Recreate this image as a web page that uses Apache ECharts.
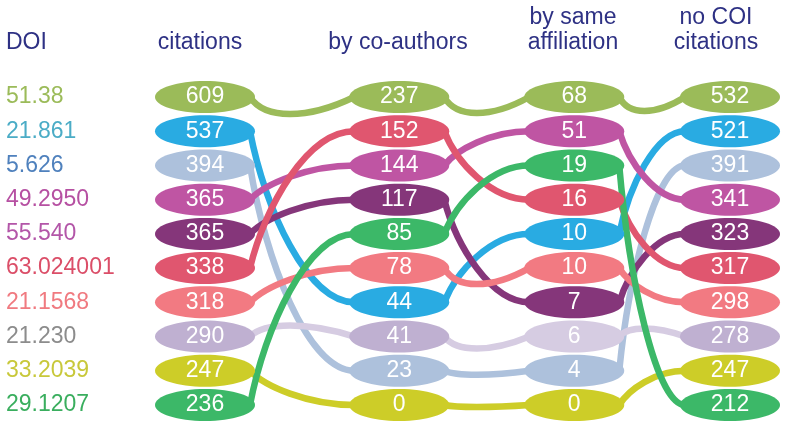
<!DOCTYPE html>
<html><head><meta charset="utf-8">
<script src="https://cdn.jsdelivr.net/npm/echarts@6/dist/echarts.min.js"></script>
<style>html,body{margin:0;padding:0;background:#fff}#c{width:786px;height:427px}</style>
</head><body><div id="c"></div><script>
// ---- data ----
const dois = ['51.38','21.861','5.626','49.2950','55.540','63.024001','21.1568','21.230','33.2039','29.1207'];
const columns = ['citations','by co-authors','by same\naffiliation','no COI\ncitations'];
const citations = [609,537,394,365,365,338,318,290,247,236];
const byCoAuthors = [237,44,23,144,117,152,78,41,0,85];
const bySameAffiliation = [68,10,4,51,7,16,10,6,0,19];
const noCoiCitations = [532,521,391,341,323,317,298,278,247,212];

// ---- style / layout ----
const colX = [0, 1.11, 2.11, 3];
const fills = ['#9BBB59','#29ABE2','#ADC1DC','#BF55A3','#85367A','#E0566F','#F27A82','#BFB0D1','#CDCD28','#3CB868'];
const lineColors = ['#9BBB59','#29ABE2','#ADC1DC','#BF55A3','#85367A','#E0566F','#F27A82','#D6CCE2','#CDCD28','#3CB868'];
const labelColors = ['#9BBB59','#4BACC6','#4F81BD','#B650A2','#B356A8','#DB4E68','#F07A80','#8C8C8C','#C8C83A','#3AAE5E'];
const cellFillOverride = {'7_2':'#D6CCE2'};
const sags = [[17,16,14],[0,0,0],[0,4,0],[0,0,0],[0,0,0],[0,0,0],[0,16,0],[-11,12,-8],[0,2,0],[0,0,0]];
const FONT = '"Liberation Sans", Arial, sans-serif';
const RX = 50, RY = 16;

const cols = [citations, byCoAuthors, bySameAffiliation, noCoiCitations];
function ranks(vals){
  const order = vals.map((v,i)=>i).sort((a,b)=> (vals[b]-vals[a]) || (a-b));
  const r = []; order.forEach((it,pos)=>{ r[it]=pos; }); return r;
}
const rankCols = cols.map(ranks);

const cellData = [];
cols.forEach((vals,c)=>vals.forEach((v,i)=>cellData.push([colX[c], rankCols[c][i], v, i, c])));
const linkData = [];
for (let i=0;i<dois.length;i++) for (let c=0;c<3;c++)
  linkData.push([colX[c], rankCols[c][i], colX[c+1], rankCols[c+1][i], i, c]);

const chart = echarts.init(document.getElementById('c'), null, {renderer:'canvas'});
chart.setOption({
  animation:false,
  grid:{left:205, right:56, top:97, bottom:22},
  xAxis:{type:'value', min:0, max:3, show:false},
  yAxis:{type:'category', data:dois, inverse:true, boundaryGap:false,
    axisLine:{show:false}, axisTick:{show:false}, splitLine:{show:false},
    axisLabel:{align:'left', margin:199, fontSize:23, fontFamily:FONT,
      color:(v,idx)=>labelColors[idx]}},
  graphic:[
    {type:'text', x:6, y:43, style:{text:'DOI', font:'23px '+FONT, fill:'#2E3184', align:'left', verticalAlign:'middle'}},
    {type:'text', x:200, y:43, style:{text:columns[0], font:'23px '+FONT, fill:'#2E3184', align:'center', verticalAlign:'middle'}},
    {type:'text', x:398, y:43, style:{text:columns[1], font:'23px '+FONT, fill:'#2E3184', align:'center', verticalAlign:'middle'}},
    {type:'text', x:573, y:30, style:{text:columns[2], font:'23px '+FONT, fill:'#2E3184', align:'center', verticalAlign:'middle', lineHeight:25}},
    {type:'text', x:716, y:30, style:{text:columns[3], font:'23px '+FONT, fill:'#2E3184', align:'center', verticalAlign:'middle', lineHeight:25}}
  ],
  series:[
    {type:'custom', clip:false, z:2, data:linkData,
      encode:{x:[0,2], y:[1,3]},
      renderItem(params, api){
        const a = api.coord([api.value(0), api.value(1)]);
        const b = api.coord([api.value(2), api.value(3)]);
        const item = api.value(4), seg = api.value(5);
        const x0 = a[0]+RX-5, y0 = a[1], x3 = b[0]-RX+5, y3 = b[1];
        const dx = x3-x0, dy = y3-y0;
        const s = sags[item][seg]*4/3;
        return {type:'bezierCurve',
          shape:{x1:x0, y1:y0, x2:x3, y2:y3,
            cpx1:x0+0.14*dx, cpy1:y0+0.45*dy+s,
            cpx2:x3-0.45*dx, cpy2:y3+s},
          style:{stroke:lineColors[item], lineWidth:6.5, fill:null}};
      }},
    {type:'custom', clip:false, z:3, data:cellData,
      encode:{x:0, y:1},
      renderItem(params, api){
        const p = api.coord([api.value(0), api.value(1)]);
        const item = api.value(3), c = api.value(4);
        const fill = cellFillOverride[item+'_'+c] || fills[item];
        return {type:'group', children:[
          {type:'ellipse', shape:{cx:p[0], cy:p[1], rx:RX, ry:RY}, style:{fill:fill}},
          {type:'text', style:{text:String(api.value(2)), x:p[0], y:p[1], align:'center', verticalAlign:'middle',
            font:'23px '+FONT, fill:'#ffffff'}}
        ]};
      }}
  ]
});
</script></body></html>
